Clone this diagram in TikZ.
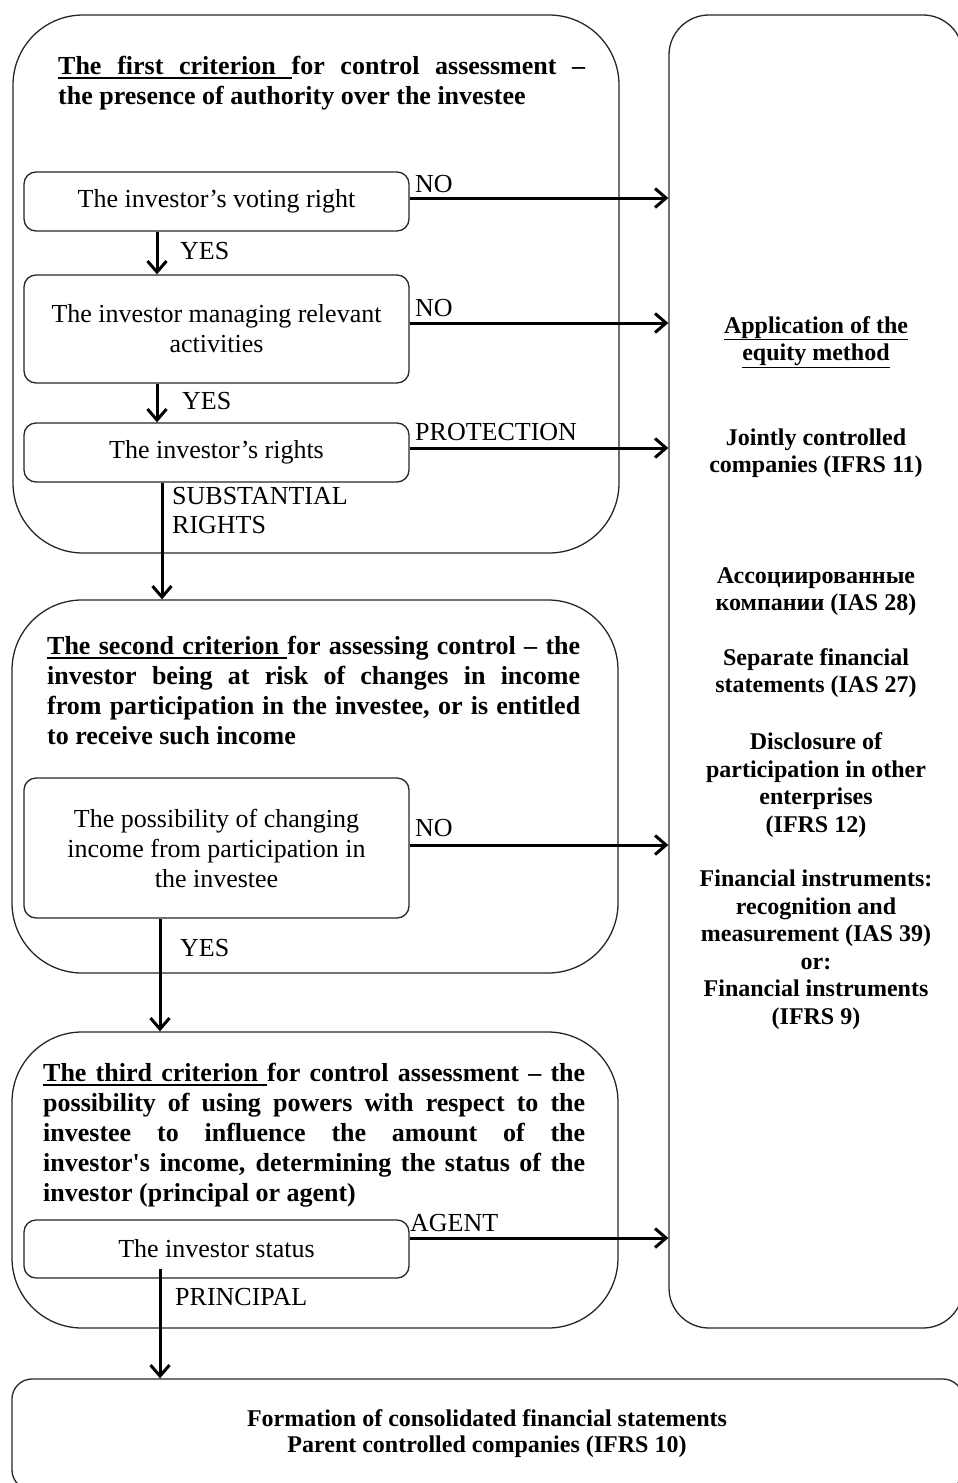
\documentclass[tikz,border=0pt]{standalone}
\usepackage{fontspec}
\setmainfont{Liberation Serif}
\usetikzlibrary{arrows.meta,calc}
\tolerance=10000
\hbadness=10000
\hyphenpenalty=10000
\newcommand\boxfont{\fontsize{26}{30}\selectfont}
\newcommand\titlefont{\bfseries\fontsize{26}{30}\selectfont}
\newcommand\rightfont{\bfseries\fontsize{24}{27.5}\selectfont}
\newcommand\botfont{\bfseries\fontsize{24}{26}\selectfont}
\newcommand\straightq{{\addfontfeature{Ligatures=TeXOff}'}}
\newcommand\ulw[1]{\setbox0\hbox{#1}\rlap{\vrule height -3.2pt depth 4.6pt width \wd0}\box0}
\newcommand\uls{\leaders\vrule height -3.2pt depth 4.6pt\hskip\fontdimen2\font plus \fontdimen3\font minus \fontdimen4\font}
\tikzset{
  bigbox/.style={draw=black!85, line width=1.3pt, rounded corners=70pt, inner sep=0pt},
  smallbox/.style={draw=black!85, line width=1.3pt, rounded corners=12pt, minimum width=385pt,
    align=center, font=\boxfont, inner sep=0pt},
  titletext/.style={anchor=base west, align=justify, font=\titlefont, inner sep=0pt},
  righttext/.style={align=center, font=\rightfont, inner sep=0pt},
  lab/.style={anchor=west, font=\boxfont, inner sep=0pt},
  arr/.style={line width=3pt, -{Straight Barb[length=11pt,width=19pt]}}
}
\begin{document}
\begin{tikzpicture}[x=1pt,y=-1pt]
\clip (0,0) rectangle (958,1483);
% containers
\node[bigbox, minimum width=606pt, minimum height=538pt] (b1) at (316,284) {};
\node[bigbox, minimum width=606pt, minimum height=373pt] (b2) at (315,786.5) {};
\node[bigbox, minimum width=606pt, minimum height=296pt] (b3) at (315,1180) {};
\node[bigbox, rounded corners=40pt, minimum width=294pt, minimum height=1313pt] (rb) at (816,671.5) {};
\node[bigbox, rounded corners=20pt, minimum width=951pt, minimum height=111pt] (bb) at (487.5,1434.5) {};
% column coordinates
\coordinate (colA) at (157,0);
\coordinate (colB) at (162,0);
\coordinate (colC) at (160,0);
% titles
\node[titletext, text width=527pt] (t1) at (58,74)
  {\ulw{The}\uls\ulw{first}\uls\ulw{criterion}\uls for control assessment --\linebreak the presence of authority over the investee};
\node[titletext, text width=533pt] (t2) at (47,654)
  {\ulw{The}\uls\ulw{second}\uls\ulw{criterion}\uls for assessing control -- the\linebreak investor being at risk of changes in income\linebreak from participation in the investee, or is entitled\linebreak to receive such income};
\node[titletext, text width=542pt] (t3) at (43,1081)
  {\ulw{The}\uls\ulw{third}\uls\ulw{criterion}\uls for control assessment -- the\linebreak possibility of using powers with respect to the\linebreak investee to influence the amount of the\linebreak investor\straightq s income, determining the status of the\linebreak investor (principal or agent)};
% small boxes
\node[smallbox, minimum height=59pt] (n1) at (216.5,201.5) {The investor’s voting right};
\node[smallbox, minimum height=108pt] (n2) at (216.5,329) {The investor managing relevant\\activities};
\node[smallbox, minimum height=59pt] (n3) at (216.5,452.5) {The investor’s rights};
\node[smallbox, minimum height=140pt] (n4) at (216.5,848) {The possibility of changing\\income from participation in\\the investee};
\node[smallbox, minimum height=58pt] (n5) at (216.5,1249) {The investor status};
% right column
\node[righttext] (r1) at (816,342) {\underline{Application of the}\\\underline{equity method}};
\node[righttext] (r2) at (816,453) {Jointly controlled\\companies (IFRS 11)};
\node[righttext] (r3) at (816,591.5) {Ассоциированные\\компании (IAS 28)};
\node[righttext] (r4) at (816,673) {Separate financial\\statements (IAS 27)};
\node[righttext] (r5) at (816,785) {Disclosure of\\participation in other\\enterprises\\(IFRS 12)};
\node[righttext] (r6) at (816,949.5) {Financial instruments:\\recognition and\\measurement (IAS 39)\\or:\\Financial instruments\\(IFRS 9)};
% bottom text
\node[align=center, font=\botfont, inner sep=0pt] (bt) at (487,1434) {Formation of consolidated financial statements\\Parent controlled companies (IFRS 10)};
% labels
\node[lab] (l1) at (415,184) {NO};
\node[lab] (l2) at (180,251) {YES};
\node[lab] (l3) at (415,308) {NO};
\node[lab] (l4) at (182,401) {YES};
\node[lab] (l5) at (415,432) {PROTECTION};
\node[lab, align=left, font=\fontsize{26}{29}\selectfont] (l6) at (172,510.5) {SUBSTANTIAL\\RIGHTS};
\node[lab] (l7) at (415,828) {NO};
\node[lab] (l8) at (180,948) {YES};
\node[lab] (l9) at (410,1223) {AGENT};
\node[lab] (l10) at (175,1297) {PRINCIPAL};
% horizontal arrows
\draw[arr] ([yshift=3.5pt]n1.east) -- ([yshift=3.5pt]n1.east -| rb.west);
\draw[arr] ([yshift=6pt]n2.east) -- ([yshift=6pt]n2.east -| rb.west);
\draw[arr] ([yshift=4.5pt]n3.east) -- ([yshift=4.5pt]n3.east -| rb.west);
\draw[arr] ([yshift=3pt]n4.east) -- ([yshift=3pt]n4.east -| rb.west);
\draw[arr] ([yshift=11pt]n5.east) -- ([yshift=11pt]n5.east -| rb.west);
% vertical arrows
\draw[arr] (n1.south -| colA) -- (n2.north -| colA);
\draw[arr] (n2.south -| colA) -- (n3.north -| colA);
\draw[arr] (n3.south -| colB) -- (b2.north -| colB);
\draw[arr] (n4.south -| colC) -- (b3.north -| colC);
\draw[arr] ($(n5.south -| colC)+(0,-10)$) -- (bb.north -| colC);
\end{tikzpicture}
\end{document}
